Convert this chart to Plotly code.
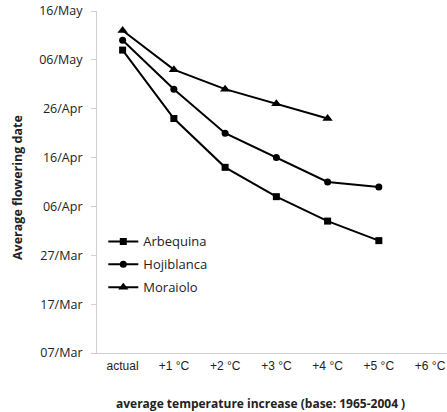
import plotly.graph_objects as go

categories = ["actual", "+1 °C", "+2 °C", "+3 °C", "+4 °C", "+5 °C", "+6 °C"]
arbequina = ["2001-05-08", "2001-04-24", "2001-04-14", "2001-04-08", "2001-04-03", "2001-03-30"]
hojiblanca = ["2001-05-10", "2001-04-30", "2001-04-21", "2001-04-16", "2001-04-11", "2001-04-10"]
moraiolo = ["2001-05-12", "2001-05-04", "2001-04-30", "2001-04-27", "2001-04-24"]

series = [
    ("Arbequina", arbequina, "square", 7),
    ("Hojiblanca", hojiblanca, "circle", 7),
    ("Moraiolo", moraiolo, "triangle-up", 9),
]

fig = go.Figure()
for name, vals, sym, size in series:
    fig.add_trace(go.Scatter(
        x=list(range(len(vals))), y=vals, name=name, mode="lines+markers",
        line=dict(color="black", width=2),
        marker=dict(symbol=sym, size=size, color="black"),
        legendgroup=name,
    ))

fig.update_layout(
    width=447, height=412,
    margin=dict(l=97, r=0, t=11, b=59),
    paper_bgcolor="white", plot_bgcolor="white",
    showlegend=True,
    legend=dict(x=0.018, y=0.37, xanchor="left", yanchor="top",
                bgcolor="rgba(0,0,0,0)", tracegroupgap=3,
                font=dict(family="Open Sans", size=13, color="#222"),
                itemwidth=30),
    xaxis=dict(
        range=[-0.5, 6.33], tickmode="array",
        tickvals=list(range(len(categories))), ticktext=categories,
        showgrid=False, zeroline=False, showline=True, linecolor="#d0d0d0", linewidth=1,
        ticks="", tickfont=dict(family="Liberation Sans", size=12, color="#222"),
        ticklabelstandoff=2,
    ),
    yaxis=dict(
        type="date", range=["2001-03-07", "2001-05-16"],
        tick0="2001-03-07", dtick=864000000, tickformat="%d/%b",
        showgrid=False, zeroline=False, showline=True, linecolor="#d0d0d0", linewidth=1,
        ticks="outside", ticklen=5, tickcolor="#d0d0d0",
        tickfont=dict(family="Open Sans", size=12.5, color="#222"),
        ticklabelstandoff=6,
    ),
    annotations=[
        dict(text="<b>average temperature increase (base: 1965-2004 )</b>",
             xref="paper", yref="paper", x=(260 - 97) / 350, y=-(403 - 353) / 342,
             xanchor="center", yanchor="middle", showarrow=False,
             font=dict(family="Open Sans", size=12, color="#222")),
        dict(text="<b>Average flowering date</b>",
             xref="paper", yref="paper", x=-(97 - 17) / 350, y=(353 - 188) / 342,
             xanchor="center", yanchor="middle", showarrow=False, textangle=-90,
             font=dict(family="Open Sans", size=12.5, color="#222")),
    ],
)

fig.write_html("out.html", config={"displayModeBar": False},
               post_script="document.body.style.margin='0';document.body.style.overflow='hidden';")
